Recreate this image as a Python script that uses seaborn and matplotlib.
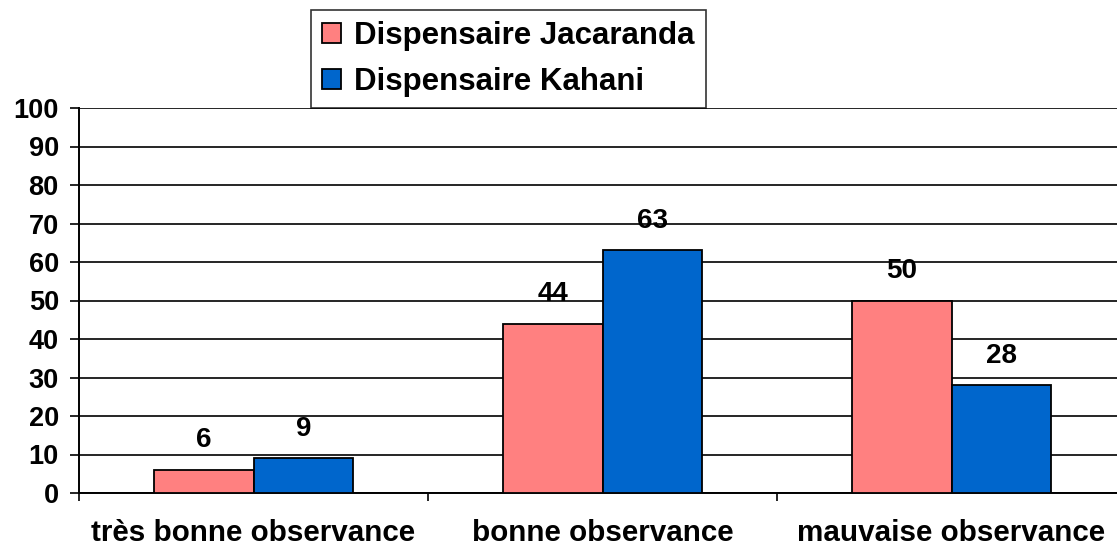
import matplotlib
matplotlib.use("Agg")
import matplotlib.pyplot as plt
import seaborn as sns
import pandas as pd

categories = ["très bonne observance", "bonne observance", "mauvaise observance"]
series_names = ["Dispensaire Jacaranda", "Dispensaire Kahani"]
jacaranda = [6, 44, 50]
kahani = [9, 63, 28]
colors = ["#FF8080", "#0066CC"]

rows = []
for c, v in zip(categories, jacaranda):
    rows.append({"cat": c, "val": v, "series": series_names[0]})
for c, v in zip(categories, kahani):
    rows.append({"cat": c, "val": v, "series": series_names[1]})
df = pd.DataFrame(rows)

sns.set_style("white")
plt.rcParams["font.family"] = ["Liberation Sans", "DejaVu Sans"]
plt.rcParams["font.weight"] = "bold"
plt.rcParams["text.color"] = "black"
plt.rcParams["xtick.color"] = "black"
plt.rcParams["ytick.color"] = "black"

fig = plt.figure(figsize=(11.17, 5.47), dpi=100)
W, H = 1117, 547
ax = fig.add_axes([79 / W, (H - 493) / H, 1047 / W, 385 / H])

sns.barplot(data=df, x="cat", y="val", hue="series", order=categories,
            hue_order=series_names, palette=colors, saturation=1,
            width=0.573, gap=0, edgecolor="black", linewidth=1.3, ax=ax,
            zorder=3, legend=True)

ax.set_xlim(-0.5, 2.5)
ax.set_ylim(0, 100)
ax.set_yticks(range(0, 101, 10))
ax.set_xlabel("")
ax.set_ylabel("")
ax.grid(axis="y", color="black", linewidth=1.2, zorder=0)
ax.grid(axis="x", visible=False)
for s in ["top", "right"]:
    ax.spines[s].set_visible(False)
for s in ["left", "bottom"]:
    ax.spines[s].set_color("black")
    ax.spines[s].set_linewidth(1.4)

ax.tick_params(axis="y", which="major", length=6.5, width=1.2, color="black",
               direction="out", left=True, pad=8, labelsize=19.5,
               labelcolor="black")
ax.tick_params(axis="x", which="major", length=0, pad=19, labelsize=21.3,
               labelcolor="black")
ax.set_xticks([-0.5, 0.5, 1.5], minor=True)
ax.tick_params(axis="x", which="minor", length=6, width=1.2, color="black",
               direction="out", bottom=True)
for lbl in ax.get_xticklabels() + ax.get_yticklabels():
    lbl.set_fontweight("bold")

for cont in ax.containers:
    ax.bar_label(cont, labels=[f"{v:g}" for v in cont.datavalues], padding=12,
                 fontsize=20, fontweight="bold", color="black")

leg = ax.legend(loc="upper left", bbox_to_anchor=(311 / W, 1 - 10 / H),
                bbox_transform=fig.transFigure, frameon=True, fancybox=False,
                edgecolor="black", prop={"weight": "bold", "size": 22.5},
                handlelength=0.6, handleheight=0.6, handletextpad=0.42,
                borderpad=0.36, labelspacing=0.5, borderaxespad=0)
leg.get_frame().set_linewidth(1.2)
leg.set_zorder(5)
for t in leg.get_texts():
    t.set_color("black")

fig.savefig("out.png", dpi=100)
